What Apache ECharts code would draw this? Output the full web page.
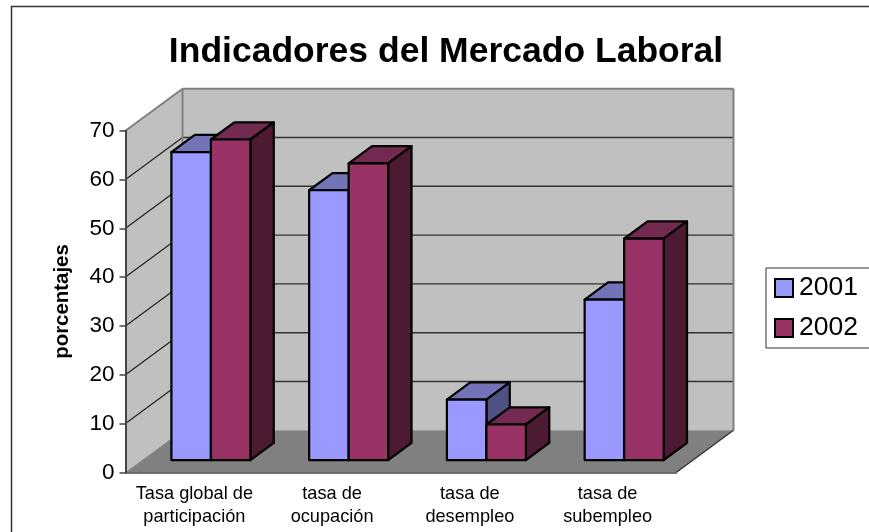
<!DOCTYPE html>
<html>
<head>
<meta charset="utf-8">
<style>html,body{margin:0;padding:0;background:#fff}#main{width:869px;height:532px}</style>
<script src="https://cdn.jsdelivr.net/npm/echarts@6/dist/echarts.min.js"></script>
</head>
<body>
<div id="main"></div>
<script>
var categories = ['Tasa global de\nparticipación', 'tasa de\nocupación', 'tasa de\ndesempleo', 'tasa de\nsubempleo'];
var values2001 = [63.1, 55.3, 12.4, 32.9];
var values2002 = [65.7, 60.8, 7.3, 45.4];
var yTicks = [0, 10, 20, 30, 40, 50, 60, 70];

var fontName = '"Liberation Sans", Arial, sans-serif';
var depthX = 57, depthY = -42;   // shift of the back wall
var barFront = 0.29, barBack = 0.7;  // bar depth inside the box
var barWidth = 39.5;

function line(x1, y1, x2, y2, color, width) {
    return {
        type: 'line',
        shape: { x1: x1, y1: y1, x2: x2, y2: y2 },
        style: { stroke: color, lineWidth: width }
    };
}

function poly(points, fill, stroke, width) {
    return {
        type: 'polygon',
        shape: { points: points },
        style: { fill: fill, stroke: stroke || null, lineWidth: width || 0, lineJoin: 'round' }
    };
}

function renderWalls(params, api) {
    var g = params.coordSys;
    var l = g.x, r = g.x + g.width, t = g.y, b = g.y + g.height;
    var kids = [
        poly([[l, t], [l + depthX, t + depthY], [l + depthX, b + depthY], [l, b]], '#c0c0c0'),
        poly([[l + depthX, t + depthY], [r + depthX, t + depthY], [r + depthX, b + depthY], [l + depthX, b + depthY]], '#c0c0c0'),
        poly([[l, b], [l + depthX, b + depthY], [r + depthX, b + depthY], [r, b]], '#808080')
    ];
    yTicks.forEach(function (v) {
        if (v === 0 || v === 70) return;
        var y = api.coord([0, v])[1];
        kids.push(line(l, y, l + depthX, y + depthY, '#222', 1.2));
        kids.push(line(l + depthX, y + depthY, r + depthX, y + depthY, '#333', 1.4));
    });
    kids.push(line(l, t, l + depthX, t + depthY, '#808080', 2));
    kids.push(line(l + depthX, t + depthY, r + depthX, t + depthY, '#808080', 2));
    kids.push(line(l + depthX, t + depthY, l + depthX, b + depthY, '#808080', 2));
    kids.push(line(r + depthX, t + depthY, r + depthX, b + depthY, '#808080', 2));
    kids.push(line(r, b, r + depthX, b + depthY, '#333', 1.4));
    return { type: 'group', children: kids };
}

function barRenderer(side, front, top, dark) {
    return function (params, api) {
        var c = api.coord([api.value(0), api.value(1)]);
        var z = api.coord([api.value(0), 0]);
        var x0 = c[0] + barFront * depthX + (side < 0 ? -barWidth : 0);
        var x1 = x0 + barWidth;
        var yt = c[1] + barFront * depthY;
        var yb = z[1] + barFront * depthY;
        var dx = (barBack - barFront) * depthX;
        var dy = (barBack - barFront) * depthY;
        return {
            type: 'group',
            children: [
                poly([[x0, yt], [x0 + dx, yt + dy], [x1 + dx, yt + dy], [x1, yt]], top, '#000', 2.2),
                poly([[x1, yt], [x1 + dx, yt + dy], [x1 + dx, yb + dy], [x1, yb]], dark, '#000', 2.2),
                poly([[x0, yt], [x1, yt], [x1, yb], [x0, yb]], front, '#000', 2.2)
            ]
        };
    };
}

var myChart = echarts.init(document.getElementById('main'), null, { renderer: 'canvas' });

myChart.setOption({
    animation: false,
    backgroundColor: '#fff',
    title: {
        text: 'Indicadores del Mercado Laboral',
        left: 441,
        top: 29,
        textAlign: 'center',
        textStyle: { fontFamily: fontName, fontSize: 35.5, fontWeight: 'bold', color: '#000' }
    },
    graphic: [{
        type: 'rect',
        shape: { x: 11.5, y: 6.5, width: 900, height: 600 },
        style: { fill: null, stroke: '#333', lineWidth: 1.5 },
        z: 100
    }],
    legend: {
        orient: 'vertical',
        left: 766,
        top: 268,
        padding: [3, 30, 3, 8],
        itemWidth: 18,
        itemHeight: 18,
        itemGap: 6,
        icon: 'rect',
        backgroundColor: '#fff',
        borderColor: '#333',
        borderWidth: 1,
        selectedMode: false,
        textStyle: { fontFamily: fontName, fontSize: 26.5, lineHeight: 30, color: '#000', padding: [4, 0, 0, 1] },
        data: [
            { name: '2001', itemStyle: { color: '#9999ff', borderColor: '#000', borderWidth: 2 } },
            { name: '2002', itemStyle: { color: '#993366', borderColor: '#000', borderWidth: 2 } }
        ]
    },
    grid: { left: 125.5, top: 130.7, width: 551, height: 341.6, containLabel: false },
    xAxis: {
        type: 'category',
        data: categories,
        z: 10,
        axisLine: { lineStyle: { color: '#444', width: 1.5 } },
        axisTick: { length: 6, lineStyle: { color: '#444', width: 1.5 } },
        axisLabel: { fontFamily: fontName, fontSize: 18.2, lineHeight: 23, color: '#000', margin: 10, interval: 0 }
    },
    yAxis: {
        type: 'value',
        min: 0,
        max: 70,
        interval: 10,
        z: 10,
        name: 'porcentajes',
        nameLocation: 'middle',
        nameRotate: 90,
        nameGap: 53,
        nameTextStyle: { fontFamily: fontName, fontSize: 20.4, fontWeight: 'bold', color: '#000' },
        splitLine: { show: false },
        axisLine: { show: true, lineStyle: { color: '#444', width: 2 } },
        axisTick: { show: true, length: 6, lineStyle: { color: '#444', width: 1.5 } },
        axisLabel: { fontFamily: fontName, fontSize: 22.5, color: '#000', margin: 11 }
    },
    series: [{
        type: 'custom',
        name: 'walls',
        silent: true,
        z: 1,
        data: [[0, 0]],
        renderItem: renderWalls
    }, {
        type: 'custom',
        name: '2001',
        z: 2,
        itemStyle: { color: '#9999ff' },
        encode: { x: 0, y: 1 },
        data: values2001.map(function (v, i) { return [i, v]; }),
        renderItem: barRenderer(-1, '#9999ff', '#7373b8', '#4f5183')
    }, {
        type: 'custom',
        name: '2002',
        z: 3,
        itemStyle: { color: '#993366' },
        encode: { x: 0, y: 1 },
        data: values2002.map(function (v, i) { return [i, v]; }),
        renderItem: barRenderer(1, '#993366', '#732a50', '#4d1a33')
    }]
});
</script>
</body>
</html>
